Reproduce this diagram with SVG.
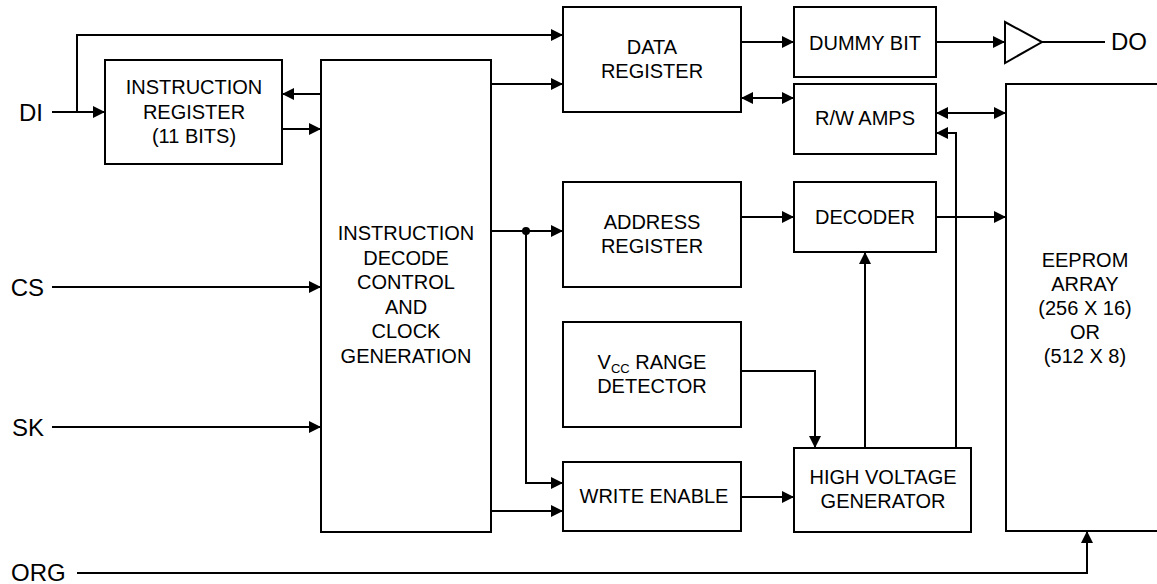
<svg xmlns="http://www.w3.org/2000/svg" width="1157" height="584" viewBox="0 0 1157 584">
<style>
.box{fill:#fff;stroke:#000;stroke-width:2}
.ln{fill:none;stroke:#000;stroke-width:2}
.t{font-family:"Liberation Sans",Arial,sans-serif;font-size:20px;fill:#000;text-anchor:middle}
.p{font-family:"Liberation Sans",Arial,sans-serif;font-size:24px;fill:#000}
.a{marker-end:url(#ah)}
.d{marker-start:url(#ah);marker-end:url(#ah)}
</style>
<defs>
<marker id="ah" markerUnits="userSpaceOnUse" markerWidth="12" markerHeight="12" refX="12" refY="6" orient="auto-start-reverse">
<path d="M0,0 L12,6 L0,12 z" fill="#000"/>
</marker>
</defs>
<rect width="1157" height="584" fill="#fff"/>
<g id="connectors">
<line class="ln a" x1="52" y1="112" x2="105" y2="112"/>
<polyline class="ln a" points="77,112 77,35 563,35"/>
<line class="ln a" x1="321" y1="94" x2="282" y2="94"/>
<line class="ln a" x1="282" y1="129" x2="321" y2="129"/>
<line class="ln a" x1="491" y1="84" x2="563" y2="84"/>
<line class="ln a" x1="741" y1="42" x2="794" y2="42"/>
<line class="ln d" x1="741" y1="98" x2="794" y2="98"/>
<line class="ln a" x1="936" y1="42" x2="1005" y2="42"/>
<line class="ln" x1="1042" y1="42" x2="1105" y2="42"/>
<line class="ln d" x1="936" y1="113" x2="1006" y2="113"/>
<polyline class="ln a" points="956,448 956,133 936,133"/>
<line class="ln a" x1="865" y1="448" x2="865" y2="252"/>
<line class="ln a" x1="491" y1="231" x2="563" y2="231"/>
<circle cx="526" cy="231" r="4" fill="#000"/>
<polyline class="ln a" points="526,231 526,483 563,483"/>
<line class="ln a" x1="741" y1="217" x2="794" y2="217"/>
<line class="ln a" x1="936" y1="217" x2="1006" y2="217"/>
<polyline class="ln a" points="741,371 815,371 815,448"/>
<line class="ln a" x1="491" y1="511" x2="563" y2="511"/>
<line class="ln a" x1="741" y1="497" x2="794" y2="497"/>
<line class="ln a" x1="52" y1="287" x2="321" y2="287"/>
<line class="ln a" x1="52" y1="427" x2="321" y2="427"/>
<polyline class="ln a" points="77,573 1087,573 1087,531"/>
</g>
<g id="pins">
<text class="p" x="43" y="121" text-anchor="end">DI</text>
<text class="p" x="44" y="296" text-anchor="end">CS</text>
<text class="p" x="44" y="436" text-anchor="end">SK</text>
<text class="p" x="11" y="581">ORG</text>
<text class="p" x="1111" y="50">DO</text>
</g>
<g id="instruction-register">
<rect class="box" x="105" y="60" width="177" height="104"/>
<text class="t" x="194" y="94">INSTRUCTION</text>
<text class="t" x="194" y="119">REGISTER</text>
<text class="t" x="194" y="143">(11 BITS)</text>
</g>
<g id="decode-control">
<rect class="box" x="321" y="60" width="170" height="472"/>
<text class="t" x="406" y="240">INSTRUCTION</text>
<text class="t" x="406" y="265">DECODE</text>
<text class="t" x="406" y="289">CONTROL</text>
<text class="t" x="406" y="314">AND</text>
<text class="t" x="406" y="338">CLOCK</text>
<text class="t" x="406" y="363">GENERATION</text>
</g>
<g id="data-register">
<rect class="box" x="563" y="7" width="178" height="105"/>
<text class="t" x="652" y="54">DATA</text>
<text class="t" x="652" y="78">REGISTER</text>
</g>
<g id="dummy-bit">
<rect class="box" x="794" y="7" width="142" height="70"/>
<text class="t" x="865" y="50">DUMMY BIT</text>
</g>
<g id="output-buffer">
<polygon class="box" points="1005,22 1042,42 1005,63"/>
</g>
<g id="rw-amps">
<rect class="box" x="794" y="84" width="142" height="70"/>
<text class="t" x="865" y="125">R/W AMPS</text>
</g>
<g id="address-register">
<rect class="box" x="563" y="182" width="178" height="105"/>
<text class="t" x="652" y="229">ADDRESS</text>
<text class="t" x="652" y="253">REGISTER</text>
</g>
<g id="decoder">
<rect class="box" x="794" y="182" width="142" height="70"/>
<text class="t" x="865" y="224">DECODER</text>
</g>
<g id="vcc-range-detector">
<rect class="box" x="563" y="322" width="178" height="105"/>
<text class="t" x="652" y="369">V<tspan font-size="13" dy="4">CC</tspan><tspan dy="-4"> RANGE</tspan></text>
<text class="t" x="652" y="393">DETECTOR</text>
</g>
<g id="write-enable">
<rect class="box" x="563" y="462" width="178" height="69"/>
<text class="t" x="654" y="503">WRITE ENABLE</text>
</g>
<g id="high-voltage-generator">
<rect class="box" x="794" y="448" width="177" height="84"/>
<text class="t" x="883" y="484">HIGH VOLTAGE</text>
<text class="t" x="883" y="508">GENERATOR</text>
</g>
<g id="eeprom-array">
<rect class="box" x="1006" y="84" width="170" height="447"/>
<text class="t" x="1085" y="267">EEPROM</text>
<text class="t" x="1085" y="291">ARRAY</text>
<text class="t" x="1085" y="315">(256 X 16)</text>
<text class="t" x="1085" y="339">OR</text>
<text class="t" x="1085" y="363">(512 X 8)</text>
</g>
</svg>
